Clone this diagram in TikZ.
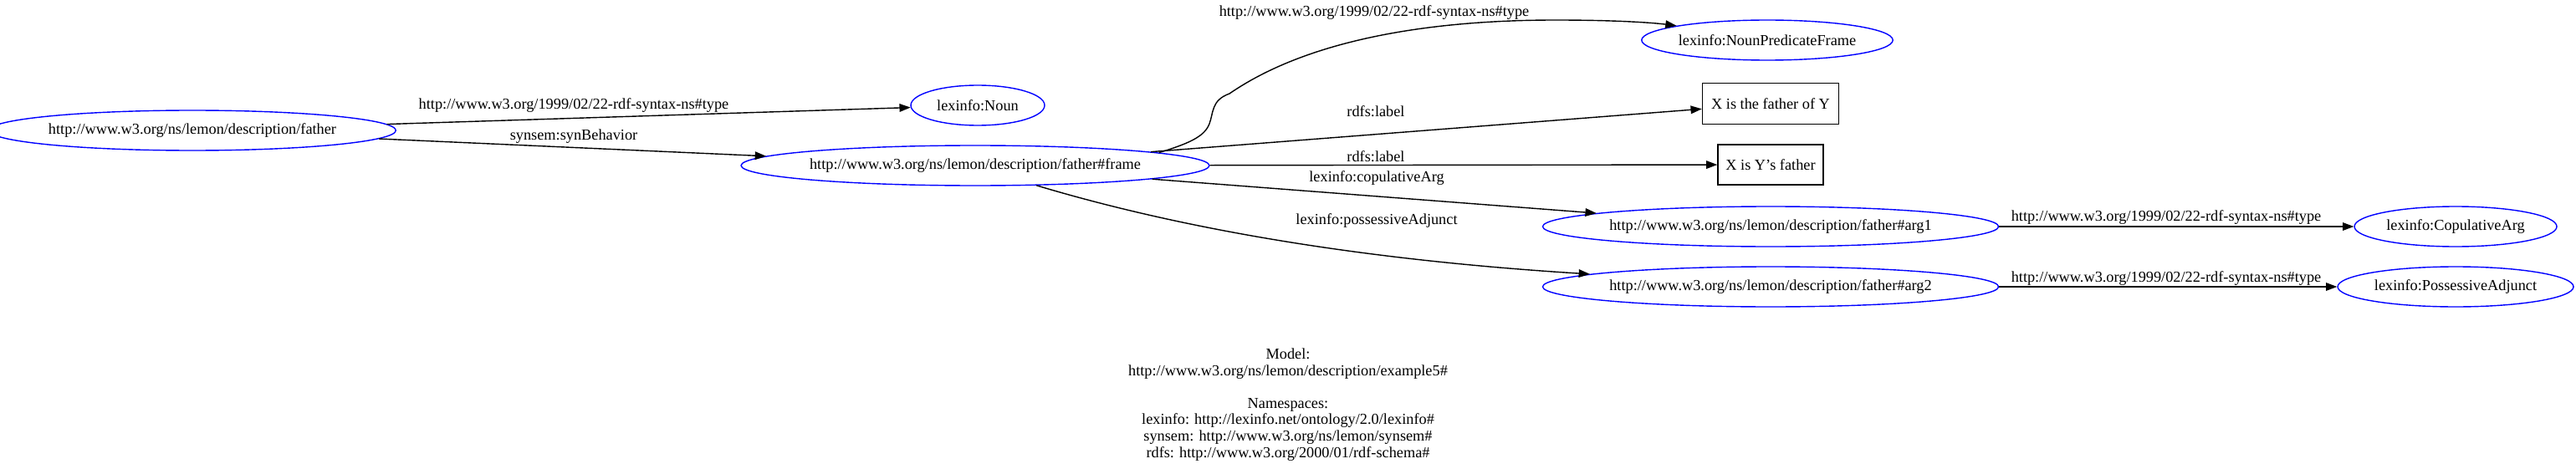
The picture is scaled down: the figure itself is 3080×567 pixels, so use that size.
\documentclass[tikz,border=0pt]{standalone}
\usepackage{fontspec}
\setmainfont{Liberation Serif}
\usetikzlibrary{shapes.geometric,arrows.meta}
\begin{document}
\begin{tikzpicture}[x=1pt,y=-1pt,
  every node/.style={font=\fontsize{18.3}{19.6}\selectfont},
  ell/.style={ellipse, draw=blue, line width=1.4pt, inner sep=0pt, minimum height=48pt},
  boxn/.style={rectangle, draw=black, line width=1.4pt, inner sep=0pt},
  edge/.style={draw=black, line width=1.4pt, -{Triangle[length=13.3pt,width=9.6pt]}},
  lbl/.style={inner sep=0pt}]
\useasboundingbox (0,0) rectangle (3080,567);

% nodes
\node[ell, minimum width=446pt] (fa) at (230,156) {http://www.w3.org/ns/lemon/description/father};
\node[ell, minimum width=160pt] (noun) at (1169,126) {lexinfo:Noun};
\node[ell, minimum width=522pt] (fr) at (1166,198) {http://www.w3.org/ns/lemon/description/father\#frame};
\node[ell, minimum width=293pt] (npf) at (2113,48) {lexinfo:NounPredicateFrame};
\node[boxn, minimum width=163pt, minimum height=49pt] (b1) at (2117,124) {X is the father of Y};
\node[boxn, minimum width=126pt, minimum height=48pt] (b2) at (2117,197) {X is Y's father};
\node[ell, minimum width=510pt] (a1) at (2117,271) {http://www.w3.org/ns/lemon/description/father\#arg1};
\node[ell, minimum width=510pt] (a2) at (2117,343) {http://www.w3.org/ns/lemon/description/father\#arg2};
\node[ell, minimum width=242pt] (cop) at (2936,271) {lexinfo:CopulativeArg};
\node[ell, minimum width=282pt] (pos) at (2936,343) {lexinfo:PossessiveAdjunct};

% edges
\draw[edge] (fa) -- (noun);
\draw[edge] (fa) -- (fr);
\draw[edge] (fr.4) .. controls (1420,172) and (1440,164) .. (1446,148)
  .. controls (1451,135) and (1448,120) .. (1470,112)
  .. controls (1560,50) and (1700,24) .. (1860,24)
  .. controls (1930,24) and (1975,27) .. (npf.171);
\draw[edge] (fr) -- (b1);
\draw[edge] (fr) -- (b2);
\draw[edge] (fr) -- (a1);
\draw[edge] (fr.-18) .. controls (1450,285) and (1680,314) .. (a2.176);
\draw[edge] (a1) -- (cop);
\draw[edge] (a2) -- (pos);

% edge labels
\node[lbl] (l1) at (686,126) {http://www.w3.org/1999/02/22-rdf-syntax-ns\#type};
\node[lbl] (l2) at (686,163) {synsem:synBehavior};
\node[lbl] (l3) at (1643,15) {http://www.w3.org/1999/02/22-rdf-syntax-ns\#type};
\node[lbl] (l4) at (1645,133) {rdfs:label};
\node[lbl] (l5) at (1645,187) {rdfs:label};
\node[lbl] (l6) at (1646,213) {lexinfo:copulativeArg};
\node[lbl] (l7) at (1646,264) {lexinfo:possessiveAdjunct};
\node[lbl] (l8) at (2590,260) {http://www.w3.org/1999/02/22-rdf-syntax-ns\#type};
\node[lbl] (l9) at (2590,333) {http://www.w3.org/1999/02/22-rdf-syntax-ns\#type};

% graph label
\node[lbl, align=center] (legend) at (1540,484) {Model:\\http://www.w3.org/ns/lemon/description/example5\#\\\mbox{}\\Namespaces:\\lexinfo: http://lexinfo.net/ontology/2.0/lexinfo\#\\synsem: http://www.w3.org/ns/lemon/synsem\#\\rdfs: http://www.w3.org/2000/01/rdf-schema\#};
\end{tikzpicture}
\end{document}
